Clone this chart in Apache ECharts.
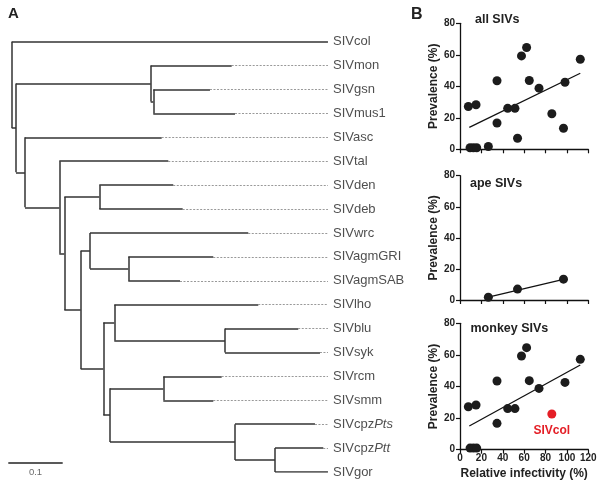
<!DOCTYPE html>
<html><head><meta charset="utf-8">
<script src="https://cdn.jsdelivr.net/npm/echarts@6/dist/echarts.min.js"></script>
<style>html,body{margin:0;padding:0;background:#fff}#c{width:604px;height:489px}</style>
</head><body><div id="c"></div>
<script>
// ---------- Panel A: phylogenetic tree (cumulative distance from root) ----------
const leafNames = ['SIVcol','SIVmon','SIVgsn','SIVmus1','SIVasc','SIVtal','SIVden','SIVdeb','SIVwrc',
  'SIVagmGRI','SIVagmSAB','SIVlho','SIVblu','SIVsyk','SIVrcm','SIVsmm','SIVcpzPts','SIVcpzPtt','SIVgor'];
const leafDepth = [0.5814,0.4044,0.3645,0.4105,0.2757,0.2879,0.2970,0.3143,0.4349,
  0.3706,0.3094,0.4533,0.5268,0.5667,0.3860,0.3706,0.5575,0.5728,0.5814];
const nodeIds = ['root','nA','nMon','nGsnMus','nAsc','nTal','nB','nDen','nC','nWrc','nAgm',
  'nD','nLho','nBlu','nE','nRcm','nCpz','nGor'];
const nodeDepth = [0,0.0079,0.2555,0.2603,0.0244,0.0875,0.0967,0.1610,0.1268,0.1439,0.2143,
  0.1684,0.1886,0.3921,0.1807,0.2787,0.4105,0.4841];
const nodeChildren = [['SIVcol','nA'],['nMon','nAsc'],['SIVmon','nGsnMus'],['SIVgsn','SIVmus1'],
  ['SIVasc','nTal'],['SIVtal','nB'],['nDen','nC'],['SIVden','SIVdeb'],['nWrc','nD'],['SIVwrc','nAgm'],
  ['SIVagmGRI','SIVagmSAB'],['nLho','nE'],['SIVlho','nBlu'],['SIVblu','SIVsyk'],['nRcm','nCpz'],
  ['SIVrcm','SIVsmm'],['SIVcpzPts','nGor'],['SIVcpzPtt','SIVgor']];
const scaleBarValue = 0.1;

// ---------- Panel B: prevalence vs relative infectivity ----------
const monkeyX = [7.8,15.0,9.4,12.5,15.6,34.6,34.6,44.6,51.4,57.5,62.3,64.8,73.9,98.2,112.5];
const monkeyY = [27.2,28.3,1.0,1.0,1.0,43.5,16.7,26.0,26.0,59.3,64.6,43.7,38.8,42.6,57.2];
const colX = [85.9];
const colY = [22.6];
const apeX = [26.5,53.8,96.8];
const apeY = [1.8,7.0,13.4];
const fitAllX = [8.7,112.5],  fitAllY = [13.9,48.3];
const fitApeX = [26.5,96.8],  fitApeY = [1.9,13.3];
const fitMonkeyX = [8.7,112.5], fitMonkeyY = [15.0,53.6];
const xTickVals = [0,20,40,60,80,100,120];
const yTickVals = [0,20,40,60,80];
const panelTitles = ['all SIVs','ape SIVs','monkey SIVs'];

// ---------- build tree geometry ----------
const leafIdx = {}; leafNames.forEach((n,i)=>leafIdx[n]=i);
const nodeIdx = {}; nodeIds.forEach((n,i)=>nodeIdx[n]=i);
function yOf(id){ if(id in leafIdx) return leafIdx[id]; const ch=nodeChildren[nodeIdx[id]]; return (yOf(ch[0])+yOf(ch[1]))/2; }
function dOf(id){ return (id in leafIdx) ? leafDepth[leafIdx[id]] : nodeDepth[nodeIdx[id]]; }
const treeMax = Math.max(...leafDepth);
const solid = [], dashed = [];
nodeIds.forEach((id,i)=>{
  const d = nodeDepth[i], ch = nodeChildren[i];
  solid.push({coords:[[d,yOf(ch[0])],[d,yOf(ch[1])]]});
  ch.forEach(c=>solid.push({coords:[[d,yOf(c)],[dOf(c),yOf(c)]]}));
});
leafNames.forEach((n,i)=>{ if(leafDepth[i] < treeMax) dashed.push({coords:[[leafDepth[i],i],[treeMax,i]]}); });
const scaleY = 17.61, scaleX0 = -0.00625;

const pair = (xs,ys)=>xs.map((x,i)=>[x,ys[i]]);
const FONT = 'Liberation Sans, Arial, sans-serif';
const dark = '#222';

const plotGrids = [
  {left:460, top:23.3, width:128.3, height:126},
  {left:460, top:175.7, width:128.3, height:124.3},
  {left:460, top:323.3, width:128.3, height:126.4}
];

const option = {
  animation:false,
  textStyle:{fontFamily:FONT},
  title:[
    {text:'A', left:8, top:6, padding:0, textStyle:{fontSize:15,fontWeight:'bold',color:dark,fontFamily:FONT}},
    {text:'B', left:411, top:7, padding:0, textStyle:{fontSize:16,fontWeight:'bold',color:dark,fontFamily:FONT}},
    {text:panelTitles[0], left:475, top:13.5, padding:0, textStyle:{fontSize:12.5,fontWeight:'bold',color:dark,fontFamily:FONT}},
    {text:panelTitles[1], left:470, top:177.5, padding:0, textStyle:{fontSize:12.5,fontWeight:'bold',color:dark,fontFamily:FONT}},
    {text:panelTitles[2], left:470.5, top:322.5, padding:0, textStyle:{fontSize:12.5,fontWeight:'bold',color:dark,fontFamily:FONT}}
  ],
  grid:[{left:6.26, top:41.7, width:321.7, height:430.3}].concat(plotGrids),
  xAxis:[{gridIndex:0,type:'value',min:-0.01,max:treeMax,show:false}].concat([1,2,3].map(g=>({
    gridIndex:g,type:'value',min:0,max:120,interval:20,
    axisLine:{lineStyle:{color:'#111',width:1.3}},
    axisTick:{length:4,lineStyle:{color:'#111',width:1.2}},
    splitLine:{show:false},
    axisLabel:{show:g===3,fontSize:10,fontWeight:'bold',color:dark,margin:4,fontFamily:FONT},
    name:g===3?'Relative infectivity (%)':'',nameLocation:'middle',nameGap:18,
    nameTextStyle:{fontSize:12,fontWeight:'bold',color:dark,fontFamily:FONT}
  }))),
  yAxis:[{gridIndex:0,type:'value',min:0,max:18,inverse:true,show:false}].concat([1,2,3].map(g=>({
    gridIndex:g,type:'value',min:0,max:80,interval:20,
    axisLine:{show:true,lineStyle:{color:'#111',width:1.3}},
    axisTick:{show:true,length:4,lineStyle:{color:'#111',width:1.2}},
    splitLine:{show:false},
    axisLabel:{fontSize:10,fontWeight:'bold',color:dark,margin:5,fontFamily:FONT},
    name:'Prevalence (%)',nameLocation:'middle',nameGap:20,
    nameTextStyle:{fontSize:12,fontWeight:'bold',color:dark,fontFamily:FONT}
  }))),
  series:[
    {type:'lines',coordinateSystem:'cartesian2d',xAxisIndex:0,yAxisIndex:0,silent:true,
     lineStyle:{color:'#999',width:1,type:[2,1.5],opacity:1},data:dashed},
    {type:'lines',coordinateSystem:'cartesian2d',xAxisIndex:0,yAxisIndex:0,silent:true,
     lineStyle:{color:'#333',width:1.5,opacity:1},data:solid},
    {type:'lines',coordinateSystem:'cartesian2d',xAxisIndex:0,yAxisIndex:0,silent:true,
     lineStyle:{color:'#222',width:1.5,opacity:1},
     data:[{coords:[[scaleX0,scaleY],[scaleX0+scaleBarValue,scaleY]]}]},
    {type:'scatter',xAxisIndex:0,yAxisIndex:0,symbolSize:0,silent:true,
     data:[[scaleX0+scaleBarValue/2,scaleY]],
     label:{show:true,position:'bottom',distance:5,formatter:String(scaleBarValue),fontSize:9.5,color:'#444',fontFamily:FONT}},
    {type:'scatter',xAxisIndex:0,yAxisIndex:0,symbolSize:0,silent:true,
     data:leafNames.map((n,i)=>({name:n,value:[treeMax,i]})),
     label:{show:true,position:'right',distance:5,fontSize:13,color:dark,fontFamily:FONT,
       formatter:p=>p.name.startsWith('SIVcpz')?'SIVcpz{i|'+p.name.slice(6)+'}':p.name,
       rich:{i:{fontStyle:'italic',fontSize:13,color:dark,fontFamily:FONT}}}},
    // all SIVs
    {type:'line',xAxisIndex:1,yAxisIndex:1,data:pair(fitAllX,fitAllY),symbol:'none',lineStyle:{color:'#111',width:1.3},z:1},
    {type:'scatter',xAxisIndex:1,yAxisIndex:1,symbolSize:9,itemStyle:{color:'#1c1c1c',opacity:1},z:3,
     data:pair(monkeyX,monkeyY).concat(pair(colX,colY),pair(apeX,apeY))},
    // ape SIVs
    {type:'line',xAxisIndex:2,yAxisIndex:2,data:pair(fitApeX,fitApeY),symbol:'none',lineStyle:{color:'#111',width:1.3},z:1},
    {type:'scatter',xAxisIndex:2,yAxisIndex:2,symbolSize:9,itemStyle:{color:'#1c1c1c',opacity:1},z:3,
     data:pair(apeX,apeY)},
    // monkey SIVs
    {type:'line',xAxisIndex:3,yAxisIndex:3,data:pair(fitMonkeyX,fitMonkeyY),symbol:'none',lineStyle:{color:'#111',width:1.3},z:1},
    {type:'scatter',xAxisIndex:3,yAxisIndex:3,symbolSize:9,itemStyle:{color:'#1c1c1c',opacity:1},z:3,
     data:pair(monkeyX,monkeyY)},
    {type:'scatter',xAxisIndex:3,yAxisIndex:3,symbolSize:9,itemStyle:{color:'#e41e26',opacity:1},z:3,
     data:pair(colX,colY),
     label:{show:true,position:'bottom',distance:6,formatter:'SIVcol',fontSize:12,fontWeight:'bold',color:'#e41e26',fontFamily:FONT}}
  ]
};
const chart = echarts.init(document.getElementById('c'),null,{renderer:'canvas'});
chart.setOption(option);
</script></body></html>
